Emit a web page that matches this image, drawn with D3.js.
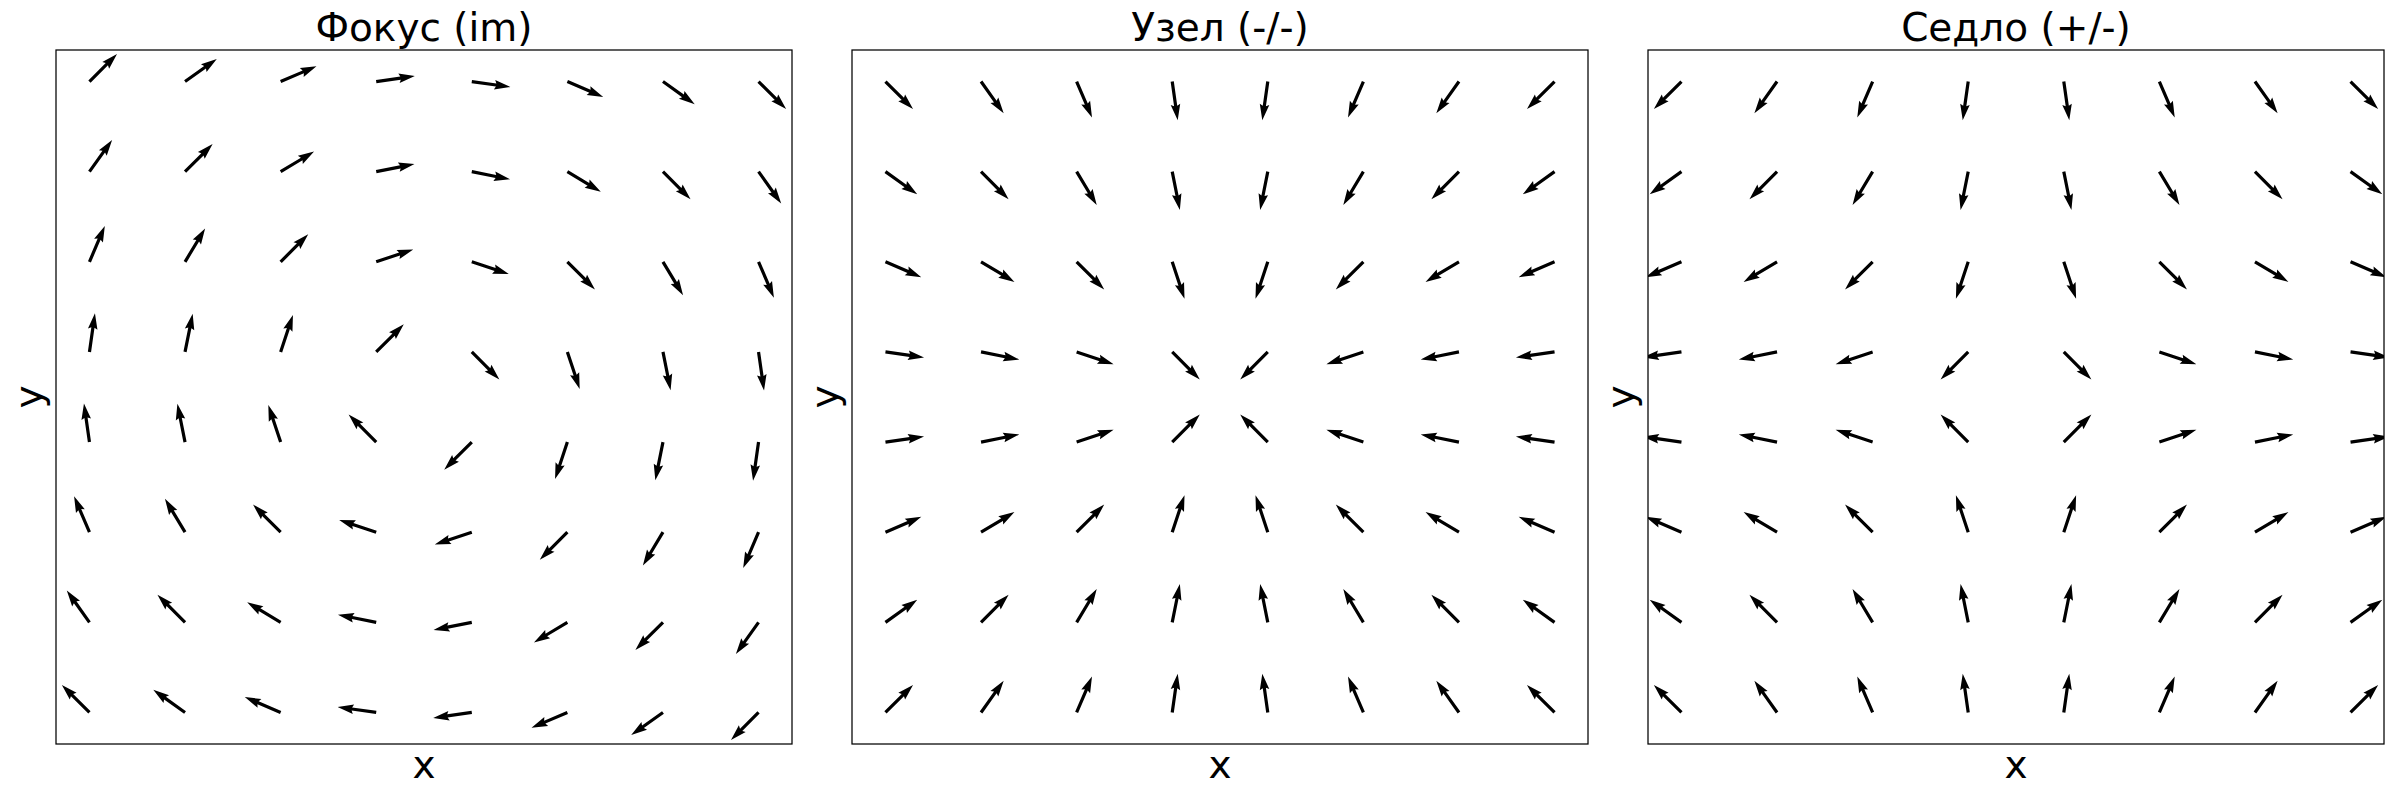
<!DOCTYPE html>
<html>
<head>
<meta charset="utf-8">
<script src="https://cdn.jsdelivr.net/npm/d3@7"></script>
<style>
  html, body { margin: 0; padding: 0; background: #fff; }
  svg { display: block; }
  text { font-family: "DejaVu Sans", sans-serif; fill: #000; }
</style>
</head>
<body>
<svg id="chart" width="2400" height="800"></svg>
<script>
// ---- data ----
const titles = ["Фокус (im)", "Узел (-/-)", "Седло (+/-)"];
const xLabel = "x";
const yLabel = "y";
// grid of arrow tails (data coordinates)
const gridX = [-2, -1.4286, -0.8571, -0.2857, 0.2857, 0.8571, 1.4286, 2];
const gridY = [2, 1.4286, 0.8571, 0.2857, -0.2857, -0.8571, -1.4286, -2]; // top row first
const axisDomain = [-2.2, 2.2];

// arrow direction (degrees, counter-clockwise from +x), rows top -> bottom, cols left -> right
const focusAngles = [
  [45, 35.5, 23.2, 8.1, -8.1, -23.2, -35.5, -45],
  [54.5, 45, 31.0, 11.3, -11.3, -31.0, -45, -54.5],
  [66.8, 59.0, 45, 18.4, -18.4, -45, -59.0, -66.8],
  [81.9, 78.7, 71.6, 45, -45, -71.6, -78.7, -81.9],
  [98.1, 101.3, 108.4, 135, -135, -108.4, -101.3, -98.1],
  [113.2, 121.0, 135, 161.6, -161.6, -135, -121.0, -113.2],
  [125.5, 135, 149.0, 168.7, -168.7, -149.0, -135, -125.5],
  [135, 144.5, 156.8, 171.9, -171.9, -156.8, -144.5, -135]
];
const nodeAngles = [
  [-45, -54.5, -66.8, -81.9, -98.1, -113.2, -125.5, -135],
  [-35.5, -45, -59.0, -78.7, -101.3, -121.0, -135, -144.5],
  [-23.2, -31.0, -45, -71.6, -108.4, -135, -149.0, -156.8],
  [-8.1, -11.3, -18.4, -45, -135, -161.6, -168.7, -171.9],
  [8.1, 11.3, 18.4, 45, 135, 161.6, 168.7, 171.9],
  [23.2, 31.0, 45, 71.6, 108.4, 135, 149.0, 156.8],
  [35.5, 45, 59.0, 78.7, 101.3, 121.0, 135, 144.5],
  [45, 54.5, 66.8, 81.9, 98.1, 113.2, 125.5, 135]
];
const saddleAngles = [
  [-135, -125.5, -113.2, -98.1, -81.9, -66.8, -54.5, -45],
  [-144.5, -135, -121.0, -101.3, -78.7, -59.0, -45, -35.5],
  [-156.8, -149.0, -135, -108.4, -71.6, -45, -31.0, -23.2],
  [-171.9, -168.7, -161.6, -135, -45, -18.4, -11.3, -8.1],
  [171.9, 168.7, 161.6, 135, 45, 18.4, 11.3, 8.1],
  [156.8, 149.0, 135, 108.4, 71.6, 45, 31.0, 23.2],
  [144.5, 135, 121.0, 101.3, 78.7, 59.0, 45, 35.5],
  [135, 125.5, 113.2, 98.1, 81.9, 66.8, 54.5, 45]
];
const panelAngles = [focusAngles, nodeAngles, saddleAngles];

// ---- layout / style ----
const panelLeft = [56, 852, 1648];
const panelW = 736;
const panelTop = 50, panelBottom = 744;
const fontSize = 39;
const arrowLen = 39, shaftW = 3.2;

const svg = d3.select("#chart");
svg.append("rect").attr("width", 2400).attr("height", 800).attr("fill", "#fff");

// matplotlib-like arrow polygon along +x
const hl = 5 * shaftW, hal = 4.5 * shaftW, hw = 1.5 * shaftW;
const arrowPts = [
  [0, -shaftW / 2], [arrowLen - hal, -shaftW / 2], [arrowLen - hl, -hw],
  [arrowLen, 0], [arrowLen - hl, hw], [arrowLen - hal, shaftW / 2], [0, shaftW / 2]
];
const arrowPath = d3.line()(arrowPts) + "Z";

panelAngles.forEach((angles, p) => {
  const x = d3.scaleLinear().domain(axisDomain).range([panelLeft[p], panelLeft[p] + panelW]);
  const y = d3.scaleLinear().domain(axisDomain).range([panelBottom, panelTop]);
  const g = svg.append("g");

  const clipId = "clip" + p;
  svg.append("clipPath").attr("id", clipId)
    .append("rect")
    .attr("x", x.range()[0]).attr("y", panelTop)
    .attr("width", panelW).attr("height", panelBottom - panelTop);

  const cells = [];
  angles.forEach((row, r) => row.forEach((a, c) => cells.push({ x: gridX[c], y: gridY[r], a })));

  g.append("g").attr("clip-path", `url(#${clipId})`)
    .selectAll("path").data(cells).join("path")
    .attr("d", arrowPath)
    .attr("transform", d => `translate(${x(d.x)},${y(d.y)}) rotate(${-d.a})`)
    .attr("fill", "#000");

  // frame
  g.append("rect")
    .attr("x", x.range()[0]).attr("y", panelTop)
    .attr("width", panelW).attr("height", panelBottom - panelTop)
    .attr("fill", "none").attr("stroke", "#000").attr("stroke-width", 1.25);

  const cx = (x.range()[0] + x.range()[1]) / 2;
  const cy = (panelTop + panelBottom) / 2;
  g.append("text").attr("x", cx).attr("y", 41).attr("text-anchor", "middle")
    .attr("font-size", fontSize).text(titles[p]);
  g.append("text").attr("x", cx).attr("y", 778).attr("text-anchor", "middle")
    .attr("font-size", fontSize).text(xLabel);
  g.append("text").attr("transform", `translate(${x.range()[0] - 14},${cy}) rotate(-90)`)
    .attr("text-anchor", "middle").attr("font-size", fontSize).text(yLabel);
});
</script>
</body>
</html>
